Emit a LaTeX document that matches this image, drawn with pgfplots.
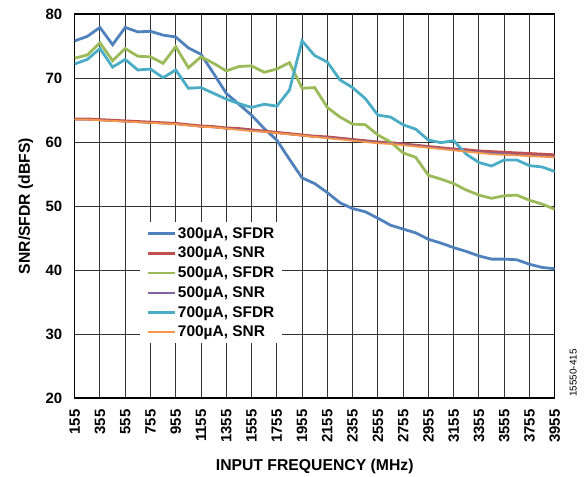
\documentclass[border=0pt]{standalone}
\usepackage{pgfplots}
\usepackage{pgfplotstable}
\usepackage{fontspec}
\setmainfont{Liberation Sans}
\pgfplotsset{compat=1.18}

\definecolor{xlblue}{HTML}{4F81BD}
\definecolor{xlred}{HTML}{C0504D}
\definecolor{xlgreen}{HTML}{9BBB59}
\definecolor{xlpurple}{HTML}{8064A2}
\definecolor{xlaqua}{HTML}{4BACC6}
\definecolor{xlorange}{HTML}{F79646}

% f  sfdr300 snr300 sfdr500 snr500 sfdr700 snr700
\pgfplotstableread{
f    a     b     c     d     e     g
155  75.8  63.6  73.1  63.5  72.2  63.5
255  76.5  63.6  73.6  63.5  72.9  63.5
355  77.9  63.5  75.5  63.4  74.6  63.4
455  75.2  63.4  72.7  63.3  71.7  63.3
555  77.9  63.3  74.6  63.2  72.9  63.2
655  77.2  63.2  73.4  63.1  71.25 63.1
755  77.3  63.1  73.3  63.0  71.4  63.0
855  76.7  63.0  72.3  62.9  70.05 62.9
955  76.4  62.9  74.9  62.8  71.25 62.8
1055 74.7  62.7  71.6  62.6  68.4  62.6
1155 73.7  62.5  73.3  62.4  68.5  62.4
1255 70.7  62.4  72.3  62.3  67.6  62.3
1355 67.6  62.2  71.1  62.1  66.7  62.1
1455 65.9  62.1  71.8  62.0  66.0  61.9
1555 64.2  61.9  71.9  61.8  65.4  61.7
1655 62.1  61.7  70.9  61.6  65.9  61.6
1755 60.3  61.5  71.4  61.4  65.6  61.4
1855 57.3  61.3  72.4  61.2  68.1  61.2
1955 54.4  61.1  68.4  61.0  75.8  61.0
2055 53.5  60.9  68.5  60.8  73.5  60.8
2155 52.1  60.8  65.4  60.7  72.5  60.6
2255 50.5  60.6  63.9  60.5  69.7  60.4
2355 49.6  60.4  62.8  60.3  68.5  60.2
2455 49.1  60.2  62.7  60.1  66.8  60.0
2555 48.1  60.0  61.1  59.9  64.2  59.8
2655 47.0  59.9  60.0  59.8  63.9  59.7
2755 46.4  59.7  58.3  59.6  62.7  59.5
2855 45.8  59.5  57.6  59.4  62.0  59.3
2955 44.8  59.3  54.8  59.2  60.3  59.1
3055 44.2  59.1  54.2  59.0  59.9  58.9
3155 43.5  58.9  53.5  58.8  60.2  58.7
3255 42.9  58.8  52.5  58.6  58.1  58.5
3355 42.2  58.6  51.7  58.4  56.8  58.3
3455 41.7  58.5  51.2  58.3  56.25 58.1
3555 41.7  58.4  51.6  58.2  57.2  58.0
3655 41.6  58.3  51.7  58.0  57.2  57.9
3755 40.9  58.2  50.9  57.9  56.3  57.8
3855 40.4  58.1  50.3  57.8  56.1  57.7
3955 40.2  58.0  49.5  57.7  55.4  57.6
}\datatab

\begin{document}
\begin{tikzpicture}
\path[use as bounding box] (-74.7bp,-79bp) rectangle (512.3bp,398bp);
\begin{axis}[
  width=480bp, height=384bp, scale only axis,
  xmin=155, xmax=3955, ymin=20, ymax=80,
  xtick={155,355,...,3955}, ytick={20,30,...,80},
  grid=major,
  major grid style={line width=1pt, color=black!80},
  axis line style={line width=1.4pt, black},
  major tick length=0pt,
  xticklabel shift=8bp, yticklabel shift=9bp,
  /pgf/number format/assume math mode=true,
  xticklabel style={rotate=90, anchor=east, font=\fontsize{15}{15}\selectfont\bfseries},
  yticklabel style={font=\fontsize{15}{15}\selectfont\bfseries},
  xticklabel={\pgfmathprintnumber[fixed,precision=0,1000 sep={}]{\tick}},
  xlabel={INPUT FREQUENCY (MHz)},
  ylabel={SNR/SFDR (dBFS)},
  xlabel style={at={(axis description cs:0.5,0)}, yshift=-68bp, anchor=center,
    font=\fontsize{15.8}{16}\selectfont\bfseries},
  ylabel style={at={(axis description cs:-0.102,0.5)}, anchor=center,
    font=\fontsize{15.8}{16}\selectfont\bfseries},
  legend style={at={(0.136,0.458)}, anchor=north west, draw=none, fill=white,
    font=\fontsize{15.5}{15.5}\selectfont\bfseries, row sep=3.5bp,
    inner xsep=6bp, inner ysep=3bp},
  legend cell align=left,
  legend image code/.code={\draw[#1] (0bp,0bp) -- (27bp,0bp);},
]
\addplot[xlblue, line width=2.8pt] table[x=f, y=a] {\datatab};
\addlegendentry{300µA, SFDR}
\addplot[xlred, line width=2.8pt] table[x=f, y=b] {\datatab};
\addlegendentry{300µA, SNR}
\addplot[xlgreen, line width=2.8pt] table[x=f, y=c] {\datatab};
\addlegendentry{500µA, SFDR}
\addplot[xlpurple, line width=1.8pt] table[x=f, y=d] {\datatab};
\addlegendentry{500µA, SNR}
\addplot[xlaqua, line width=2.8pt] table[x=f, y=e] {\datatab};
\addlegendentry{700µA, SFDR}
\addplot[xlorange, line width=1.8pt] table[x=f, y=g] {\datatab};
\addlegendentry{700µA, SNR}
\end{axis}
\node[rotate=90, font=\fontsize{10}{10}\selectfont] at (498.6bp,25bp) {15550-415};
\end{tikzpicture}
\end{document}
